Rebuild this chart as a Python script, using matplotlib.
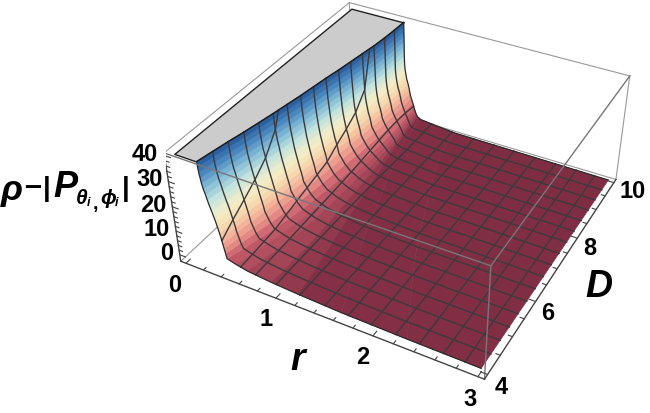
import numpy as np
import matplotlib
matplotlib.use('Agg')
import matplotlib.pyplot as plt
from matplotlib.colors import LinearSegmentedColormap
from mpl_toolkits.mplot3d.art3d import Poly3DCollection

# colonnes : valeurs de D, lignes : niveaux de la surface
d_values = [4, 4.375, 4.75, 5.125, 5.5, 5.875, 6.25, 6.625, 7, 7.375, 7.75, 8.125, 8.5, 8.875, 9.25, 9.625, 10]
levels = [40, 38, 36, 34, 32, 30, 28, 26, 24, 22, 20, 18, 16, 14, 12, 10, 8, 6, 4, 3, 2, 1, 0.3, -0.5]
floor_z_mid = [-1, -1.08, -1.16, -1.25, -1.33, -1.41, -1.48, -1.55, -1.61, -1.67, -1.74, -1.8, -1.86, -1.92, -1.96, -1.985, -2]
floor_z_end = [-1.3, -1.39, -1.48, -1.58, -1.66, -1.75, -1.83, -1.91, -1.97, -2.04, -2.11, -2.18, -2.25, -2.31, -2.36, -2.38, -2.4]
r_table = [
    [.24, .271, .302, .338, .369, .400, .427, .455, .478, .501, .529, .552, .575, .599, .614, .624, .630],
    [.243, .274, .305, .340, .371, .402, .429, .456, .479, .502, .529, .553, .576, .599, .615, .624, .631],
    [.247, .278, .309, .343, .374, .405, .432, .459, .482, .505, .532, .555, .578, .601, .617, .626, .632],
    [.255, .285, .315, .350, .380, .410, .436, .463, .486, .508, .535, .557, .580, .603, .618, .627, .633],
    [.262, .292, .322, .355, .385, .415, .441, .467, .489, .511, .537, .560, .582, .604, .619, .628, .634],
    [.273, .302, .331, .364, .392, .421, .447, .472, .494, .516, .541, .563, .584, .606, .621, .630, .635],
    [.29, .318, .345, .376, .404, .431, .456, .480, .500, .521, .545, .566, .587, .607, .621, .630, .636],
    [.303, .330, .356, .386, .413, .440, .463, .486, .506, .526, .549, .569, .589, .609, .623, .631, .637],
    [.318, .344, .369, .398, .423, .449, .471, .493, .513, .532, .554, .573, .592, .611, .624, .632, .638],
    [.335, .359, .384, .411, .436, .460, .481, .503, .521, .539, .561, .579, .597, .616, .628, .635, .640],
    [.352, .376, .399, .426, .449, .473, .493, .514, .531, .549, .570, .587, .605, .622, .634, .642, .646],
    [.367, .390, .413, .439, .462, .485, .505, .525, .543, .560, .580, .597, .615, .632, .643, .651, .655],
    [.38, .403, .426, .451, .474, .497, .517, .537, .554, .571, .591, .608, .625, .642, .654, .661, .665],
    [.393, .416, .439, .465, .488, .511, .532, .552, .569, .587, .607, .624, .642, .659, .670, .678, .682],
    [.405, .428, .451, .478, .501, .524, .544, .565, .582, .599, .620, .637, .654, .672, .683, .691, .695],
    [.415, .438, .461, .488, .511, .534, .554, .575, .592, .609, .630, .647, .664, .682, .693, .701, .705],
    [.425, .455, .483, .514, .540, .566, .587, .607, .625, .643, .663, .679, .695, .709, .717, .720, .720],
    [.435, .471, .506, .541, .572, .600, .621, .643, .661, .679, .701, .715, .729, .742, .746, .743, .740],
    [.445, .494, .539, .583, .619, .652, .674, .696, .714, .733, .754, .765, .776, .782, .779, .766, .755],
    [.54, .585, .626, .664, .695, .722, .738, .754, .767, .781, .797, .801, .806, .806, .796, .78, .765],
    [.66, .696, .728, .757, .779, .797, .805, .813, .82, .827, .835, .833, .831, .825, .81, .791, .775],
    [.92, .927, .932, .932, .93, .925, .916, .907, .899, .891, .882, .868, .854, .837, .819, .801, .787],
    [1.2, 1.177, 1.153, 1.123, 1.095, 1.066, 1.038, 1.01, .986, .962, .934, .907, .88, .852, .83, .812, .80],
    [1.65, 1.585, 1.52, 1.448, 1.383, 1.318, 1.261, 1.205, 1.156, 1.107, 1.051, 1.002, .953, .905, .872, .852, .84],
    [2.3, 2.216, 2.132, 2.038, 1.954, 1.87, 1.796, 1.723, 1.66, 1.597, 1.523, 1.46, 1.397, 1.334, 1.292, 1.266, 1.25],
    [3.0, 3.0, 3.0, 3.0, 3.0, 3.0, 3.0, 3.0, 3.0, 3.0, 3.0, 3.0, 3.0, 3.0, 3.0, 3.0, 3.0],
]
mesh_r = [.41, .59, .75, .97, 1.22, 1.48, 1.72, 1.95, 2.19, 2.42, 2.65, 2.85]

r_major = [0, 1, 2, 3]
d_major = [4, 6, 8, 10]
z_major = [0, 10, 20, 30, 40]
r_minor = [.2, .4, .6, .8, 1.2, 1.4, 1.6, 1.8, 2.2, 2.4, 2.6, 2.8]
d_minor = [4.5, 5, 5.5, 6.5, 7, 7.5, 8.5, 9, 9.5]
z_minor = [2, 4, 6, 8, 12, 14, 16, 18, 22, 24, 26, 28, 32, 34, 36, 38]

# limites de la boite
r_lim = (-0.06, 3.06)
d_lim = (3.88, 10.12)
z_lim = (-2.8, 41)

W, H = 650, 413
fig = plt.figure(figsize=(W / 100, H / 100), dpi=100)
side = 472.45
ax = fig.add_axes([165.8 / W, (H - 409.9) / H, side / W, side / H], projection='3d', computed_zorder=False)
ax.view_init(36.098, -61.602)
ax.set_proj_type('persp', focal_length=0.446)
ax.set_box_aspect((1, 1.004, 0.396))
ax.set_axis_off()
ax.patch.set_alpha(0)

R = np.array(r_table)
D = np.tile(np.array(d_values), (R.shape[0], 1))
Z = np.vstack([np.tile(np.array(levels)[:, None], (1, len(d_values))), floor_z_mid, floor_z_end])

cmap = LinearSegmentedColormap.from_list('wall', [
    (0.0, '#7e2d43'), (0.057, '#863048'), (0.092, '#a54658'), (0.151, '#c75c6b'),
    (0.222, '#e58a85'), (0.316, '#f4b59a'), (0.41, '#f6d8ae'), (0.528, '#f3efc9'),
    (0.646, '#c4e3dd'), (0.764, '#84bdd8'), (0.882, '#4a87bf'), (1.0, '#245597')])
mid = Z.copy().astype(float)
mid[:-1] = (Z[:-1] + Z[1:]) / 2
face = cmap((mid + 2.4) / 42.4)


def box_line(a, b, color='#999999', lw=0.8, zorder=1):
    ax.plot([a[0], b[0]], [a[1], b[1]], [a[2], b[2]], color=color, lw=lw, zorder=zorder)


r0, r1 = r_lim
d0, d1 = d_lim
z0, z1 = z_lim
# aretes arriere
box_line((r0, d0, z0), (r0, d1, z0), zorder=1)
box_line((r0, d1, z0), (r1, d1, z0), zorder=1)
box_line((r0, d1, z0), (r0, d1, z1), zorder=1)
box_line((r1, d1, z0), (r1, d1, z1), zorder=1)
box_line((r0, d0, z1), (r0, d1, z1), zorder=1)
box_line((r0, d1, z1), (r1, d1, z1), zorder=1)

surf = ax.plot_surface(R, D, Z, facecolors=face, rstride=1, cstride=1, shade=False,
                       linewidth=0.4, antialiased=True, zorder=3)

cap = [(0, d_values[0], 40), (0, d_values[-1], 40)] + [(R[0, j], d_values[j], 40) for j in range(len(d_values) - 1, -1, -1)]
ax.add_collection3d(Poly3DCollection([cap], facecolors='#cccccc', edgecolors='#222222', linewidths=1.0, zorder=2))

# maillage
mesh_col = '#3c3a3c'
for j in range(1, len(d_values) - 1):
    ax.plot(R[:, j], D[:, j], Z[:, j], color=mesh_col, lw=1.0, zorder=4)
for rm in mesh_r:
    zs, ds = [], []
    for j in range(len(d_values)):
        if rm >= R[0, j]:
            zs.append(np.interp(rm, R[:, j], Z[:, j]))
            ds.append(d_values[j])
    if ds and ds[-1] < d_values[-1]:
        ds.append(np.interp(rm, R[0], d_values))
        zs.append(40)
    ax.plot([rm] * len(ds), ds, zs, color=mesh_col, lw=1.0, zorder=4)
# contours
ax.plot(R[0], D[0], Z[0], color='#1c1c1c', lw=1.1, zorder=5)
ax.plot(R[:, 0], D[:, 0], Z[:, 0], color='#2c2c2c', lw=0.9, zorder=5)
ax.plot(R[:, -1], D[:, -1], Z[:, -1], color='#2c2c2c', lw=0.9, zorder=5)

# aretes avant, par-dessus la surface
box_line((r0, d0, z1), (r1, d0, z1), color='#77777a', lw=1.0, zorder=6)
box_line((r1, d0, z1), (r1, d0, z0), color='#77777a', lw=1.0, zorder=6)
box_line((r1, d0, z1), (r1, d1, z1), color='#77777a', lw=1.0, zorder=6)

# axes avec graduations
axis_col = '#444444'
box_line((r0, d0, z0), (r1, d0, z0), color=axis_col, lw=1.0, zorder=7)
box_line((r1, d0, z0), (r1, d1, z0), color=axis_col, lw=1.0, zorder=7)
box_line((r0, d0, z0), (r0, d0, z1), color=axis_col, lw=1.0, zorder=7)
for vals, ln in ((r_major, .13), (r_minor, .08)):
    for v in vals:
        ax.plot([v, v], [d0, d0 + ln], [z0, z0], color=axis_col, lw=0.8, zorder=7)
for vals, ln in ((d_major, .065), (d_minor, .04)):
    for v in vals:
        ax.plot([r1, r1 - ln], [v, v], [z0, z0], color=axis_col, lw=0.8, zorder=7)
for vals, ln in ((z_major, .065), (z_minor, .04)):
    for v in vals:
        ax.plot([r0, r0 + ln], [d0, d0], [v, v], color=axis_col, lw=0.8, zorder=7)

ax.set_xlim(r0, r1)
ax.set_ylim(d0, d1)
ax.set_zlim(z0, z1)

font = ['Liberation Sans', 'DejaVu Sans']


def label(x, y, s, size=17, style='normal'):
    fig.text(x / W, 1 - y / H, s, ha='center', va='center', fontsize=size, family=font,
             fontweight='bold', style=style, color='black')


z_pos = [(167, 253), (157, 229), (153, 205), (150, 180), (145, 155)]
for v, (x, y) in zip(z_major, z_pos):
    label(x, y, str(v))
r_pos = [(175, 285), (266, 320), (363, 358), (470, 400)]
for v, (x, y) in zip(r_major, r_pos):
    label(x, y, str(v))
d_pos = [(501, 387), (548, 313), (590, 248), (633, 192)]
for v, (x, y) in zip(d_major, d_pos):
    label(x, y, str(v))

label(298, 360, 'r', size=27, style='italic')
label(599, 287, 'D', size=27, style='italic')
label(12, 191, 'ρ', size=26, style='italic')
label(33, 187, '–', size=22)
label(47, 189, '|', size=20)
label(65, 187, 'P', size=26, style='italic')
label(82, 199, 'θ', size=15, style='italic')
label(89, 203, 'i', size=9, style='italic')
label(95, 204, ',', size=14)
label(108, 199, 'ϕ', size=15, style='italic')
label(117, 203, 'i', size=9, style='italic')
label(126, 189, '|', size=20)

fig.savefig('out.png', dpi=100)
